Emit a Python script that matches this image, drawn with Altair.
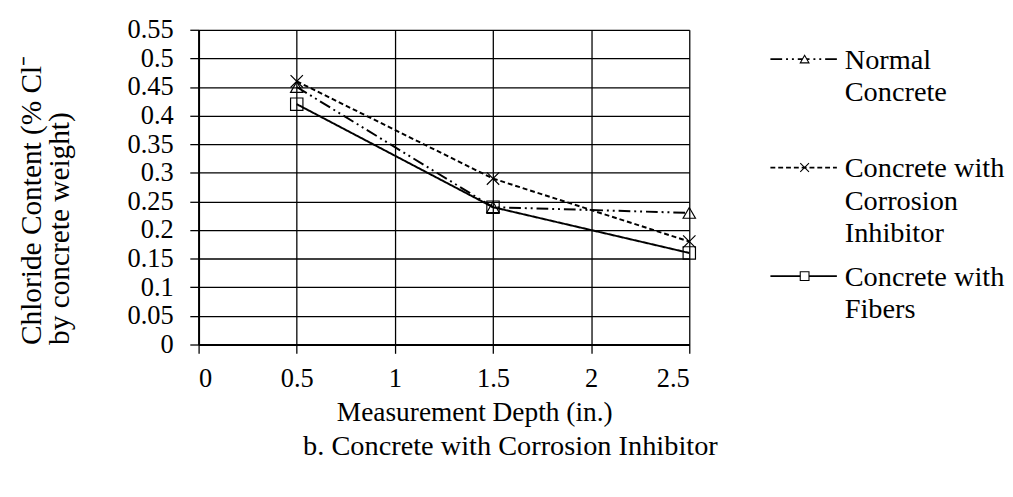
import altair as alt
import pandas as pd

FONT = "'Liberation Serif', 'Times New Roman', Times, serif"

depth = [0.5, 1.5, 2.5]
series = ["Normal Concrete", "Concrete with Corrosion Inhibitor", "Concrete with Fibers"]
normal = [0.45, 0.24, 0.23]
inhibitor = [0.46, 0.29, 0.18]
fibers = [0.42, 0.24, 0.16]
x_ticks = [0, 0.5, 1, 1.5, 2, 2.5]
y_ticks = [0, 0.05, 0.1, 0.15, 0.2, 0.25, 0.3, 0.35, 0.4, 0.45, 0.5, 0.55]
legend_lines = [["Normal", "Concrete"],
                ["Concrete with", "Corrosion", "Inhibitor"],
                ["Concrete with", "Fibers"]]

dash_range = [[12, 4, 2, 4, 2, 4], [5, 3], [1, 0]]
shape_range = ["triangle-up", "M-1,-1L1,1M-1,1L1,-1", "square"]

rows = []
for name, vals in zip(series, [normal, inhibitor, fibers]):
    for d, v in zip(depth, vals):
        rows.append({"series": name, "depth": d, "value": v})
df = pd.DataFrame(rows)

dash_scale = alt.Scale(domain=series, range=dash_range)
shape_scale = alt.Scale(domain=series, range=shape_range)

W, H = 502, 322
LBL = 27
TXT = 28
LEG = 29

base = alt.Chart(df).encode(
    x=alt.X("depth:Q", scale=alt.Scale(domain=[0, 2.5], nice=False, zero=False),
            axis=alt.Axis(values=x_ticks, format="~g", title="Measurement Depth (in.)",
                          tickSize=9, labelPadding=13, titlePadding=8, titleX=282)),
    y=alt.Y("value:Q", scale=alt.Scale(domain=[0, 0.55], nice=False),
            axis=alt.Axis(values=y_ticks, format="~g",
                          title=["Chloride Content (% Cl\u207b", "by concrete weight)"],
                          titleAnchor="start", titleLineHeight=28, titleFontSize=30,
                          tickSize=9, labelPadding=17, titlePadding=54)),
)

lines = base.mark_line(color="black", strokeWidth=2).encode(
    strokeDash=alt.StrokeDash("series:N", scale=dash_scale, legend=None),
    detail="series:N",
)
points = base.mark_point(filled=False, color="black", strokeWidth=1.2, size=160, opacity=1).encode(
    shape=alt.Shape("series:N", scale=shape_scale, legend=None),
)

main = alt.layer(lines, points).properties(
    width=W, height=H,
    title=alt.TitleParams("b. Concrete with Corrosion Inhibitor", orient="bottom",
                          anchor="middle", dx=68, font=FONT, fontSize=29,
                          fontWeight="normal", color="black", offset=6),
)

# Legend layout (pixel offsets inside the legend panel, top-down; equal slots per entry)
entry_base = [40, 151, 262]
line_gap = 33
text_rows = []
sym_rows = []
for name, ls, yb in zip(series, legend_lines, entry_base):
    for i, t in enumerate(ls):
        text_rows.append({"label": t, "ly": yb + i * line_gap, "lx": 129})
    sym_rows.append({"series": name, "ly": yb - 10, "x0": 53, "x1": 121, "xm": 88})
tdf = pd.DataFrame(text_rows)
sdf = pd.DataFrame(sym_rows)

LW = 270
lx_scale = alt.Scale(domain=[0, LW], range=[0, LW])
ly_scale = alt.Scale(domain=[0, H], range=[0, H])

leg_rule = alt.Chart(sdf).mark_rule(color="black", strokeWidth=1.8).encode(
    x=alt.X("x0:Q", scale=lx_scale, axis=None),
    x2="x1:Q",
    y=alt.Y("ly:Q", scale=ly_scale, axis=None),
    strokeDash=alt.StrokeDash("series:N", scale=dash_scale, legend=None),
)
leg_pt = alt.Chart(sdf).mark_point(filled=True, fill="white", stroke="black", strokeWidth=1.1,
                                   size=80, opacity=1).encode(
    x=alt.X("xm:Q", scale=lx_scale, axis=None),
    y=alt.Y("ly:Q", scale=ly_scale, axis=None),
    shape=alt.Shape("series:N", scale=shape_scale, legend=None),
)
leg_txt = alt.Chart(tdf).mark_text(align="left", baseline="alphabetic", font=FONT,
                                   fontSize=LEG, color="black").encode(
    x=alt.X("lx:Q", scale=lx_scale, axis=None),
    y=alt.Y("ly:Q", scale=ly_scale, axis=None),
    text="label:N",
)
legend = alt.layer(leg_rule, leg_pt, leg_txt).properties(width=LW, height=H)

chart = alt.hconcat(main, legend, spacing=0).resolve_scale(
    x="independent", y="independent", strokeDash="shared", shape="shared"
).properties(
    padding={"left": 9, "top": 3, "right": 0, "bottom": 0},
    background="white",
).configure_view(stroke=None).configure_axis(
    labelFont=FONT, labelFontSize=LBL, labelColor="black",
    titleFont=FONT, titleFontSize=TXT, titleColor="black", titleFontWeight="normal",
    grid=True, gridColor="black", gridWidth=1.3, gridOpacity=1,
    domainColor="black", domainWidth=2, tickColor="black", tickWidth=1.3,
).configure_title(font=FONT).configure_text(font=FONT)

chart.save("out.html", embed_options={"renderer": "svg", "actions": False})
